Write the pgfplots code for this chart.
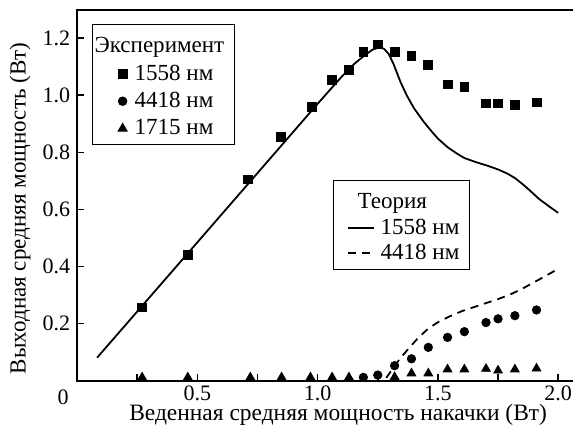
\documentclass[border=0pt]{standalone}
\usepackage{fontspec}
\setmainfont{Liberation Serif}
\usepackage{pgfplots}
\pgfplotsset{compat=1.18}
\begin{document}
\begin{tikzpicture}
\pgfplotsset{
  common/.style={
    scale only axis, width=248pt, height=185pt,
    xmin=0, xmax=2.0667, ymin=0, ymax=1.2982,
    clip=false,
  }
}
% theory lines (hidden axis)
\begin{axis}[common, hide axis,
  legend style={at={(0.514,0.541)}, anchor=north west, draw=black, line width=0.5pt,
    font=\fontsize{11.5}{13}\selectfont, inner xsep=3pt, inner ysep=1.5pt, row sep=-0.5pt},
  legend cell align=left,
  legend image code/.code={\path[draw=none] (0pt,0pt) -- (18.7pt,0pt); \draw[#1] (4.5pt,0pt) -- (17.5pt,0pt);},
]
\addlegendimage{empty legend}
\addlegendentry{\hspace*{-11.5pt}Теория\rule[-7pt]{0pt}{17.5pt}}
\addplot[black, line width=0.9pt] coordinates {
(0.083,0.081) (0.5,0.485) (1.0,0.97) (1.1,1.065) (1.15,1.108) (1.2,1.143)
(1.23,1.160) (1.255,1.167) (1.275,1.163) (1.295,1.145) (1.315,1.11) (1.345,1.045)
(1.37,1.0) (1.40,0.955) (1.44,0.908) (1.47,0.877) (1.50,0.848) (1.54,0.818)
(1.58,0.795) (1.61,0.780) (1.66,0.765) (1.71,0.752) (1.75,0.740) (1.79,0.725)
(1.82,0.710) (1.85,0.690) (1.88,0.668) (1.92,0.637) (1.96,0.612) (2.0,0.588)};
\addlegendentry{1558 нм}
\addplot[black, line width=0.9pt, dash pattern=on 4pt off 3pt] coordinates {
(1.285,0.01) (1.31,0.04) (1.34,0.075) (1.38,0.115) (1.42,0.152) (1.46,0.183)
(1.50,0.205) (1.55,0.226) (1.60,0.244) (1.65,0.258) (1.70,0.272) (1.75,0.286)
(1.80,0.302) (1.85,0.322) (1.90,0.345) (1.95,0.368) (2.0,0.392)};
\addlegendentry{4418 нм}
\end{axis}
% experiment, visible axis
\begin{axis}[common, name=ax,
  axis line style={line width=0.8pt},
  tick pos=left, tick align=inside,
  major tick length=3.5pt, minor tick length=3.5pt,
  every tick/.style={black, line width=0.8pt},
  xtick={0.5,1.0,1.5,2.0}, minor xtick={0.25,0.75,1.25,1.75},
  ytick={0.2,0.4,0.6,0.8,1.0,1.2},
  /pgf/number format/assume math mode=true,
  ticklabel style={font=\fontsize{11}{13}\selectfont},
  xticklabel style={yshift=1pt, /pgf/number format/.cd, fixed, fixed zerofill, precision=1},
  yticklabel style={/pgf/number format/.cd, fixed, fixed zerofill, precision=1},
  xlabel={Веденная средняя мощность накачки (Вт)},
  ylabel={Выходная средняя мощность (Вт)},
  every axis x label/.style={at={(rel axis cs:0.525,-0.108)}, anchor=base, font=\fontsize{11.7}{13}\selectfont},
  every axis y label/.style={at={(rel axis cs:-0.115,0.465)}, rotate=90, anchor=center, font=\fontsize{11.5}{13}\selectfont},
  legend style={at={(0.03,0.962)}, anchor=north west, draw=black, line width=0.5pt,
    font=\fontsize{11.5}{13}\selectfont, inner xsep=3pt, inner ysep=1.5pt, row sep=0.5pt},
  legend cell align=left,
  legend image code/.code={\path[draw=none] (0pt,0pt) -- (16pt,0pt); \draw[mark repeat=2, mark phase=2, #1] plot coordinates {(11pt,0pt) (12pt,0pt) (13pt,0pt)};},
]
\addlegendimage{empty legend}
\addlegendentry{\hspace*{-20pt}Эксперимент\rule[-3.5pt]{0pt}{14pt}}
\addplot[only marks, mark=square*, mark size=2.2pt, black] coordinates {
(0.27,0.257) (0.46,0.44) (0.71,0.705) (0.846,0.853) (0.975,0.958) (1.06,1.053)
(1.13,1.088) (1.19,1.151) (1.25,1.178) (1.32,1.151) (1.39,1.137) (1.46,1.105)
(1.54,1.038) (1.61,1.028) (1.70,0.971) (1.75,0.971) (1.82,0.965) (1.91,0.975)};
\addlegendentry{1558 нм}
\addplot[only marks, mark=*, mark size=2.1pt, black] coordinates {
(1.19,0.012) (1.25,0.02) (1.32,0.053) (1.39,0.077) (1.46,0.117) (1.54,0.152)
(1.61,0.172) (1.70,0.204) (1.75,0.217) (1.82,0.228) (1.91,0.248)};
\addlegendentry{4418 нм}
\addplot[only marks, mark=triangle*, mark size=2.5pt, black] coordinates {
(0.27,0.012) (0.46,0.012) (0.72,0.012) (0.85,0.012) (0.97,0.012) (1.06,0.012)
(1.13,0.012) (1.32,0.013) (1.39,0.026) (1.46,0.026) (1.54,0.04) (1.61,0.04)
(1.70,0.042) (1.75,0.036) (1.82,0.04) (1.91,0.043)};
\addlegendentry{1715 нм}
\node[font=\fontsize{11}{13}\selectfont] at (rel axis cs:0,0) [xshift=-7pt, yshift=-8pt] {0};
\end{axis}
\pgfresetboundingbox
\path ([shift={(-38.5pt,-23.5pt)}]ax.south west) rectangle ([shift={(-0.6pt,5pt)}]ax.north east);
\end{tikzpicture}
\end{document}
